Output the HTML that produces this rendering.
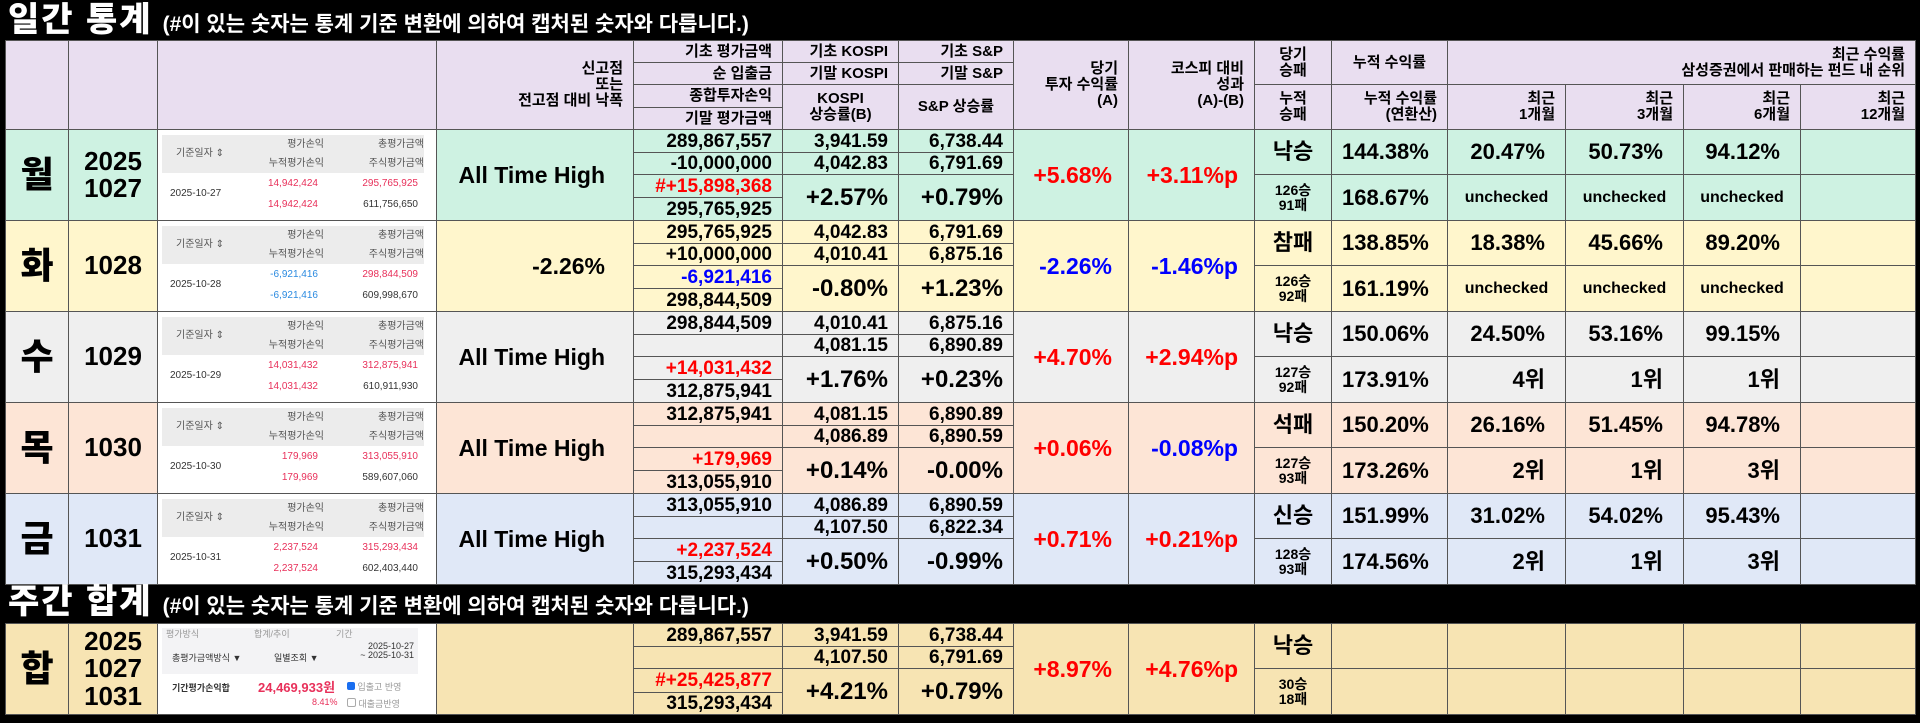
<!DOCTYPE html>
<html><head><meta charset="utf-8">
<style>
body{margin:0;width:1920px;height:723px;background:#000;overflow:hidden;position:relative;font-family:"Liberation Sans","Noto Sans CJK KR",sans-serif;font-weight:bold;}
.title{position:absolute;left:8px;color:#fff;white-space:nowrap;}
.title .big{font-size:34px;font-weight:900;letter-spacing:2px;}
.title .sm{font-size:21px;margin-left:10px;}
table{position:absolute;left:5px;border-collapse:collapse;table-layout:fixed;width:1910px;}
td{border:1px solid #555;padding:0 10px;text-align:right;line-height:1;overflow:hidden;white-space:nowrap;font-size:19px;color:#000;}
.hd td{background:#e9def0;font-size:15px;line-height:1.05;}
.c{text-align:center;}
.day{font-size:36px;text-align:center;font-weight:900;}
.date{font-size:26px;text-align:center;line-height:1.05;}
.ath{font-size:23px;padding-right:28px;}
.big{font-size:24px;}
.pct{font-size:23px;padding-right:16px;}
.wl{font-size:22px;text-align:center;padding:0;}
.wl2{font-size:14px;text-align:center;padding:0;line-height:1.05;}
.cum{font-size:22px;padding-right:20px;}
.unc{font-size:16px;text-align:center;}
.red{color:#f00;}.blue{color:#00f;}
.imgcell{background:#fff !important;padding:4px 12px 4px 4px;}
.mini{font-family:"Liberation Sans","Noto Sans CJK KR",sans-serif;font-weight:normal;font-size:10px;color:#333;width:100%;}
.mini .hdr{display:grid;grid-template-columns:62px 100px 100px;background:#ececec;}
.mini .hdr div{height:19px;line-height:19px;padding-left:6px;color:#555;}
.mini .rows{display:grid;grid-template-columns:62px 100px 100px;}
.mini .rows div{height:21px;line-height:21px;text-align:right;padding-right:6px;}
.pink{color:#e8305a;}.sky{color:#2a8ae0;}
</style></head><body>
<div class="title" style="top:0px;height:40px;line-height:40px"><span class="big">일간 통계</span><span class="sm">(#이 있는 숫자는 통계 기준 변환에 의하여 캡처된 숫자와 다릅니다.)</span></div>
<table id="t1" style="top:40px">
<colgroup><col style="width:63px"><col style="width:89px"><col style="width:279px"><col style="width:197px"><col style="width:149px"><col style="width:116px"><col style="width:115px"><col style="width:115px"><col style="width:126px"><col style="width:77px"><col style="width:116px"><col style="width:118px"><col style="width:118px"><col style="width:117px"><col style="width:115px"></colgroup>
<tbody id="b1">
<tr class="hd" style="height:22px"><td rowspan="4"></td><td rowspan="4"></td><td rowspan="4"></td><td rowspan="4">신고점<br>또는<br>전고점 대비 낙폭</td><td>기초 평가금액</td><td>기초 KOSPI</td><td>기초 S&amp;P</td><td rowspan="4">당기<br>투자 수익률<br>(A)</td><td rowspan="4">코스피 대비<br>성과<br>(A)-(B)</td><td rowspan="2" class="c">당기<br>승패</td><td rowspan="2" class="c">누적 수익률</td><td rowspan="2" colspan="4">최근 수익률<br>삼성증권에서 판매하는 펀드 내 순위</td></tr>
<tr class="hd" style="height:22px"><td>순 입출금</td><td>기말 KOSPI</td><td>기말 S&amp;P</td></tr>
<tr class="hd" style="height:23px"><td>종합투자손익</td><td rowspan="2" class="c">KOSPI<br>상승률(B)</td><td rowspan="2" class="c">S&amp;P 상승률</td><td rowspan="2" class="c">누적<br>승패</td><td rowspan="2">누적 수익률<br>(연환산)</td><td rowspan="2">최근<br>1개월</td><td rowspan="2">최근<br>3개월</td><td rowspan="2">최근<br>6개월</td><td rowspan="2">최근<br>12개월</td></tr>
<tr class="hd" style="height:22px"><td>기말 평가금액</td></tr>
</tbody></table>
<div class="title" style="top:582px;height:41px;line-height:41px"><span class="big">주간 합계</span><span class="sm">(#이 있는 숫자는 통계 기준 변환에 의하여 캡처된 숫자와 다릅니다.)</span></div>
<table id="t2" style="top:623px">
<colgroup><col style="width:63px"><col style="width:89px"><col style="width:279px"><col style="width:197px"><col style="width:149px"><col style="width:116px"><col style="width:115px"><col style="width:115px"><col style="width:126px"><col style="width:77px"><col style="width:116px"><col style="width:118px"><col style="width:118px"><col style="width:117px"><col style="width:115px"></colgroup>
<tbody style="background:#f7e4b3">
<tr style="height:23px"><td rowspan="4" class="day">합</td><td rowspan="4" class="date">2025<br>1027<br>1031</td>
<td rowspan="4" class="imgcell">
<div class="mini" style="height:82px;position:relative;overflow:hidden">
<div style="background:#f3f3f5;height:46px;position:relative;color:#999;width:256px">
<span style="position:absolute;left:4px;top:2px;font-size:9px">평가방식</span><span style="position:absolute;left:92px;top:2px;font-size:9px">합계/추이</span><span style="position:absolute;left:174px;top:2px;font-size:9px">기간</span>
<span style="position:absolute;left:10px;top:26px;color:#333;font-size:9px">총평가금액방식 ▼</span><span style="position:absolute;left:112px;top:26px;color:#333;font-size:9px">일별조회 ▼</span>
<span style="position:absolute;right:4px;top:14px;color:#333;text-align:right;font-size:9px">2025-10-27<br>~ 2025-10-31</span></div>
<span style="position:absolute;left:10px;top:56px;color:#333;font-weight:bold;font-size:9px">기간평가손익합</span>
<span style="position:absolute;left:96px;top:53px;font-size:13px;font-weight:bold" class="pink">24,469,933원</span>
<span style="position:absolute;left:150px;top:70px;font-size:9px" class="pink">8.41%</span>
<span style="position:absolute;left:185px;top:54px;color:#999;font-size:9px"><span style="display:inline-block;width:8px;height:8px;background:#1a6ef0;border-radius:2px"></span> 입출고 반영</span>
<span style="position:absolute;left:185px;top:70px;color:#999;font-size:9px"><span style="display:inline-block;width:7px;height:7px;border:1px solid #aaa;border-radius:2px"></span> 대출금반영</span>
</div></td>
<td rowspan="4"></td><td>289,867,557</td><td>3,941.59</td><td>6,738.44</td><td rowspan="4" class="pct red">+8.97%</td><td rowspan="4" class="pct red">+4.76%p</td><td rowspan="2" class="wl">낙승</td><td rowspan="2"></td><td rowspan="2"></td><td rowspan="2"></td><td rowspan="2"></td><td rowspan="2"></td></tr>
<tr style="height:22px"><td></td><td>4,107.50</td><td>6,791.69</td></tr>
<tr style="height:22px"><td class="red">#+25,425,877</td><td rowspan="2" class="big">+4.21%</td><td rowspan="2" class="big">+0.79%</td><td rowspan="2" class="wl2">30승<br>18패</td><td rowspan="2"></td><td rowspan="2"></td><td rowspan="2"></td><td rowspan="2"></td><td rowspan="2"></td></tr>
<tr style="height:22px"><td>315,293,434</td></tr>
</tbody></table>
<script>
const days=['월','화','수','목','금'];
const dates=['2025<br>1027','1028','1029','1030','1031'];
const bgs=['#cef2e2','#fff6cc','#efefef','#fde5d6','#e0e8f7'];
const ath=['All Time High','-2.26%','All Time High','All Time High','All Time High'];
const amtStart=['289,867,557','295,765,925','298,844,509','312,875,941','313,055,910'];
const amtFlow=['-10,000,000','+10,000,000','','',''];
const amtPL=['#+15,898,368','-6,921,416','+14,031,432','+179,969','+2,237,524'];
const amtEnd=['295,765,925','298,844,509','312,875,941','313,055,910','315,293,434'];
const kStart=['3,941.59','4,042.83','4,010.41','4,081.15','4,086.89'];
const kEnd=['4,042.83','4,010.41','4,081.15','4,086.89','4,107.50'];
const kPct=['+2.57%','-0.80%','+1.76%','+0.14%','+0.50%'];
const sStart=['6,738.44','6,791.69','6,875.16','6,890.89','6,890.59'];
const sEnd=['6,791.69','6,875.16','6,890.89','6,890.59','6,822.34'];
const sPct=['+0.79%','+1.23%','+0.23%','-0.00%','-0.99%'];
const retA=['+5.68%','-2.26%','+4.70%','+0.06%','+0.71%'];
const retAB=['+3.11%p','-1.46%p','+2.94%p','-0.08%p','+0.21%p'];
const wl=['낙승','참패','낙승','석패','신승'];
const wlCum=['126승<br>91패','126승<br>92패','127승<br>92패','127승<br>93패','128승<br>93패'];
const cum=['144.38%','138.85%','150.06%','150.20%','151.99%'];
const cumAnn=['168.67%','161.19%','173.91%','173.26%','174.56%'];
const m1=['20.47%','18.38%','24.50%','26.16%','31.02%'];
const m3=['50.73%','45.66%','53.16%','51.45%','54.02%'];
const m6=['94.12%','89.20%','99.15%','94.78%','95.43%'];
const r1=['unchecked','unchecked','4위','2위','2위'];
const r3=['unchecked','unchecked','1위','1위','1위'];
const r6=['unchecked','unchecked','1위','3위','3위'];
const shotDate=['2025-10-27','2025-10-28','2025-10-29','2025-10-30','2025-10-31'];
const shotPL=['14,942,424','-6,921,416','14,031,432','179,969','2,237,524'];
const shotTot=['295,765,925','298,844,509','312,875,941','313,055,910','315,293,434'];
const shotStock=['611,756,650','609,998,670','610,911,930','589,607,060','602,403,440'];
function col(v){return v.startsWith('-')?'blue':'red';}
const b=document.getElementById('b1');
let h='';
for(let i=0;i<5;i++){
 const bg=bgs[i];
 const plc=shotPL[i].startsWith('-')?'sky':'pink';
 const rk=(v)=>v==='unchecked'?'<td rowspan="2" class="unc">'+v+'</td>':'<td rowspan="2" class="cum">'+v+'</td>';
 const shot='<div class="mini"><div class="hdr"><div style="grid-row:span 2;line-height:38px;height:38px">기준일자 ⇕</div><div>평가손익</div><div>총평가금액</div><div>누적평가손익</div><div>주식평가금액</div></div><div class="rows"><div style="grid-row:span 2;line-height:42px;height:42px;text-align:left;padding-left:8px">'+shotDate[i]+'</div><div class="'+plc+'">'+shotPL[i]+'</div><div class="pink">'+shotTot[i]+'</div><div class="'+plc+'">'+shotPL[i]+'</div><div>'+shotStock[i]+'</div></div></div>';
 h+='<tr style="height:23px;background:'+bg+'"><td rowspan="4" class="day">'+days[i]+'</td><td rowspan="4" class="date">'+dates[i]+'</td><td rowspan="4" class="imgcell">'+shot+'</td><td rowspan="4" class="ath">'+ath[i]+'</td><td>'+amtStart[i]+'</td><td>'+kStart[i]+'</td><td>'+sStart[i]+'</td><td rowspan="4" class="pct '+col(retA[i])+'">'+retA[i]+'</td><td rowspan="4" class="pct '+col(retAB[i])+'">'+retAB[i]+'</td><td rowspan="2" class="wl">'+wl[i]+'</td><td rowspan="2" class="cum">'+cum[i]+'</td><td rowspan="2" class="cum">'+m1[i]+'</td><td rowspan="2" class="cum">'+m3[i]+'</td><td rowspan="2" class="cum">'+m6[i]+'</td><td rowspan="2"></td></tr>';
 h+='<tr style="height:22px;background:'+bg+'"><td>'+amtFlow[i]+'</td><td>'+kEnd[i]+'</td><td>'+sEnd[i]+'</td></tr>';
 h+='<tr style="height:23px;background:'+bg+'"><td class="'+col(amtPL[i].replace('#',''))+'">'+amtPL[i]+'</td><td rowspan="2" class="big">'+kPct[i]+'</td><td rowspan="2" class="big">'+sPct[i]+'</td><td rowspan="2" class="wl2">'+wlCum[i]+'</td><td rowspan="2" class="cum">'+cumAnn[i]+'</td>'+rk(r1[i])+rk(r3[i])+rk(r6[i])+'<td rowspan="2"></td></tr>';
 h+='<tr style="height:23px;background:'+bg+'"><td>'+amtEnd[i]+'</td></tr>';
}
b.insertAdjacentHTML('beforeend',h);
const rows=b.querySelectorAll('tr');
for(let i=0;i<5;i++){
 const r=rows[4+i*4];
 
 
}
</script>
</body></html>
